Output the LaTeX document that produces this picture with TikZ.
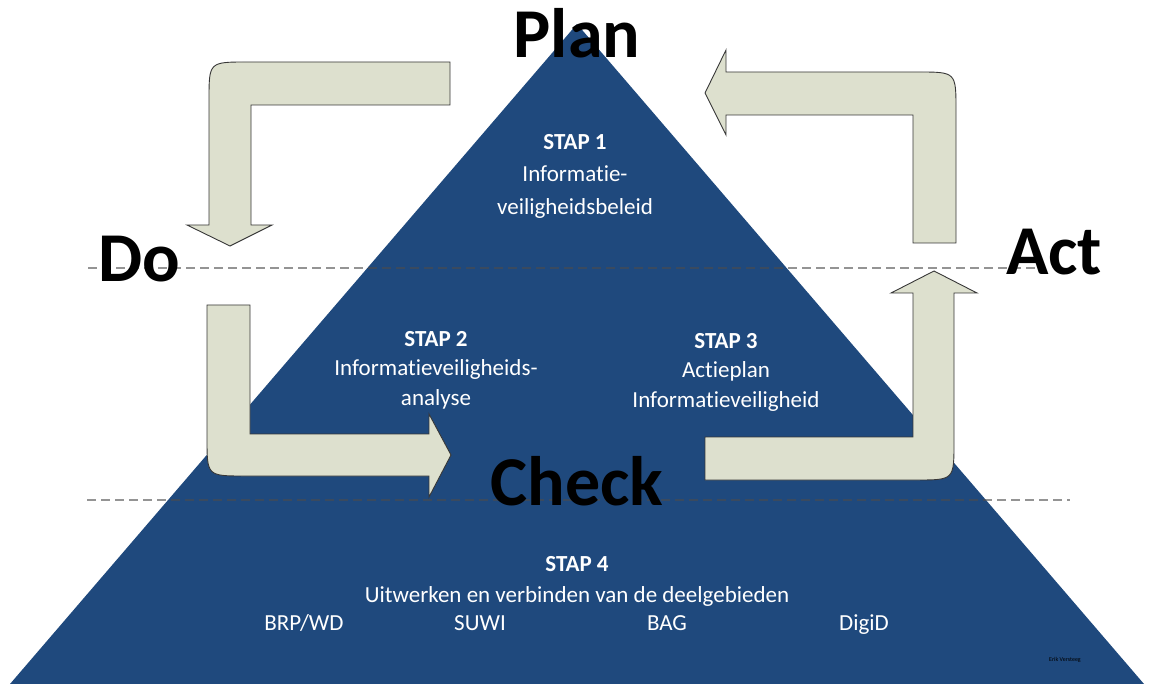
\documentclass[tikz,border=0pt]{standalone}
\usepackage{fontspec}
\setmainfont{Carlito}[Ligatures=NoCommon]
\definecolor{piramide}{RGB}{31,73,125}
\definecolor{pijlvul}{RGB}{221,224,206}
\definecolor{pijlrand}{RGB}{55,55,55}

\begin{document}
\begin{tikzpicture}[
  x=1pt, y=-1pt,
  pdca/.style={anchor=base, inner sep=0pt, font=\fontsize{70}{70}\selectfont\bfseries},
  stap/.style={text=white, align=center, inner sep=0pt, font=\fontsize{23}{29.5}\selectfont},
  deel/.style={text=white, anchor=base, inner sep=0pt, font=\fontsize{23}{29}\selectfont},
  blokpijl/.style={fill=pijlvul, draw=pijlrand, line width=0.9pt, line join=miter},
  hulplijn/.style={draw=black!70, draw opacity=0.6, line width=1.3pt, dash pattern=on 9pt off 5pt}
]
\useasboundingbox (0,0) rectangle (1150,684);
\fill[piramide] (577,24) -- (1144,684) -- (10,684) -- cycle;
\draw[hulplijn] (88,268) -- (1040,268);
\draw[hulplijn] (87,500) -- (1070,500);

\node[stap, font=\fontsize{23}{32.5}\selectfont] (stap1) at (575,176) {\textbf{STAP 1}\\Informatie-\\veiligheidsbeleid};
\node[stap] (stap2) at (436,370) {\textbf{STAP 2}\\Informatieveiligheids-\\analyse};
\node[stap] (stap3) at (726,372) {\textbf{STAP 3}\\Actieplan\\Informatieveiligheid};
\node[stap, font=\fontsize{23}{31}\selectfont] (stap4) at (577,581) {\textbf{STAP 4}\\Uitwerken en verbinden van de deelgebieden};
\node[deel] (brp) at (304,630) {BRP/WD};
\node[deel] (suwi) at (480,630) {SUWI};
\node[deel] (bag) at (667,630) {BAG};
\node[deel] (digid) at (864,630) {DigiD};
\node[text=black, inner sep=0pt, font=\fontsize{6}{7}\selectfont] (auteur) at (1065,660) {Erik Versteeg};

\draw[blokpijl] (450,62) -- (247,62) .. controls (209,62) .. (209,100) -- (209,225) -- (187,225) -- (230,246) -- (272,225) -- (251,225) -- (251,105) -- (450,105) -- cycle;
\draw[blokpijl] (207,305) -- (207,438) .. controls (207,476) .. (245,476) -- (429,476) -- (429,497) -- (451,455) -- (429,414) -- (429,434) -- (250,434) -- (250,305) -- cycle;
\draw[blokpijl] (705,437) -- (705,480) -- (916,480) .. controls (954,480) .. (954,442) -- (954,293) -- (977,293) -- (934,271) -- (891,293) -- (913,293) -- (913,437) -- cycle;
\draw[blokpijl] (913,243) -- (913,115) -- (726,115) -- (726,135) -- (705,93) -- (726,50) -- (726,72) -- (918,72) .. controls (956,72) .. (956,110) -- (956,243) -- cycle;

\node[pdca] (plan) at (577,58) {Plan};
\node[pdca] (do) at (139,282) {Do};
\node[pdca] (act) at (1054,275) {Act};
\node[pdca] (check) at (577,505) {Check};
\end{tikzpicture}
\end{document}
